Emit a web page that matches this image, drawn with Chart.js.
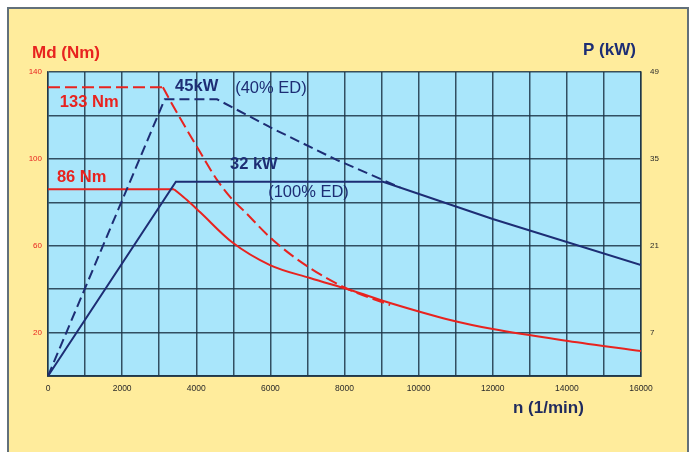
<!DOCTYPE html>
<html>
<head>
<meta charset="utf-8">
<script src="https://cdn.jsdelivr.net/npm/chart.js@4.4.0/dist/chart.umd.min.js"></script>
<style>
html, body { margin: 0; padding: 0; background: #fff; overflow: hidden; }
#cadre { position: absolute; left: 7px; top: 7px; width: 678px; height: 445px; background: #ffec9c; border: 2px solid #62707a; border-bottom: none; }
#graph { position: absolute; left: 0; top: 0; }
</style>
</head>
<body>
<div id="cadre"></div>
<canvas id="graph" width="694" height="452"></canvas>
<script>
// couple 100% ED (trait plein rouge)
const nCouple100 = [0, 3400, 3750, 4100, 4960, 5990, 7070, 8150, 9230, 10850, 12000, 14030, 16000];
const mdCouple100 = [86, 86, 81, 75.5, 61.7, 51.1, 45.1, 39.6, 33.6, 25.8, 21.6, 16.1, 11.5];

// couple 40% ED (pointillés rouges)
const nCouple40 = [0, 3100, 3290, 4180, 4560, 4990, 5260, 6070, 7070, 8150, 9230];
const mdCouple40 = [133, 133, 127, 100.9, 90.3, 81, 76.5, 62.6, 49.7, 39.6, 32.7];

// puissance 100% ED (trait plein bleu)
const nPuiss100 = [0, 3450, 9040, 12000, 16000];
const pPuiss100 = [0, 31.3, 31.3, 25.3, 17.9];

// puissance 40% ED (pointillés bleus)
const nPuiss40 = [0, 3150, 4560, 5990, 7800, 9500];
const pPuiss40 = [0, 44.6, 44.6, 40.1, 34.8, 30.4];

// axes
const nMax = 16000, nPas = 1000;
const mdMax = 140, mdPas = 20;
const pMax = 49, pPas = 7;

const rouge = '#e8231f';
const bleu = '#1d2d74';
const grille = 'rgba(28,52,70,0.85)';

function points(xs, ys) {
    return xs.map((x, i) => ({ x: x, y: ys[i] }));
}

// fond cyan de la zone du graphique
const fondPlugin = {
    id: 'fond',
    beforeDraw(chart) {
        const a = chart.chartArea, ctx = chart.ctx;
        ctx.save();
        ctx.fillStyle = '#a9e6fb';
        ctx.fillRect(a.left, a.top, a.right - a.left, a.bottom - a.top);
        ctx.restore();
    }
};

// textes : titres des axes et étiquettes des courbes
const textesPlugin = {
    id: 'textes',
    afterDatasetsDraw(chart) {
        const ctx = chart.ctx, sx = chart.scales.x, sy = chart.scales.y;
        ctx.save();
        ctx.textBaseline = 'middle';
        ctx.textAlign = 'left';
        function txt(t, x, y, couleur, police) {
            ctx.fillStyle = couleur;
            ctx.font = police;
            ctx.fillText(t, x, y);
        }
        const gras = 'bold 16.5px "Liberation Sans", Arial, sans-serif';
        const normal = '16.5px "Liberation Sans", Arial, sans-serif';
        txt('133 Nm', sx.getPixelForValue(320), sy.getPixelForValue(126.2), rouge, gras);
        txt('86 Nm', sx.getPixelForValue(240), sy.getPixelForValue(91.4), rouge, gras);
        txt('45kW', sx.getPixelForValue(3430), sy.getPixelForValue(133.3), bleu, gras);
        txt('(40% ED)', sx.getPixelForValue(5050), sy.getPixelForValue(132.4), bleu, normal);
        txt('32 kW', sx.getPixelForValue(4910), sy.getPixelForValue(97.2), bleu, gras);
        txt('(100% ED)', sx.getPixelForValue(5940), sy.getPixelForValue(84.5), bleu, normal);

        const titre = 'bold 17px "Liberation Sans", Arial, sans-serif';
        txt('Md (Nm)', 32, 53, rouge, titre);
        txt('P (kW)', 583, 50, bleu, titre);
        txt('n (1/min)', 513, 408, '#1f2a5e', titre);
        ctx.restore();
    }
};

// les parties courbes sont lissées, les paliers restent droits
const courbe = { cubicInterpolationMode: 'monotone' };

const ctx = document.getElementById('graph').getContext('2d');
const monGraph = new Chart(ctx, {
    type: 'line',
    data: {
        datasets: [
            { data: points(nPuiss40, pPuiss40), yAxisID: 'y2', borderColor: bleu, borderWidth: 2, borderDash: [10, 5] },
            { data: points(nPuiss100, pPuiss100), yAxisID: 'y2', borderColor: bleu, borderWidth: 2 },
            { data: points(nCouple40.slice(0, 2), mdCouple40.slice(0, 2)), yAxisID: 'y', borderColor: rouge, borderWidth: 2, borderDash: [12, 5] },
            Object.assign({ data: points(nCouple40.slice(1), mdCouple40.slice(1)), yAxisID: 'y', borderColor: rouge, borderWidth: 2, borderDash: [12, 5] }, courbe),
            { data: points(nCouple100.slice(0, 2), mdCouple100.slice(0, 2)), yAxisID: 'y', borderColor: rouge, borderWidth: 2 },
            Object.assign({ data: points(nCouple100.slice(1), mdCouple100.slice(1)), yAxisID: 'y', borderColor: rouge, borderWidth: 2 }, courbe)
        ]
    },
    options: {
        responsive: false,
        animation: false,
        devicePixelRatio: 1,
        layout: { padding: { top: 72 } },
        elements: { point: { radius: 0 }, line: { tension: 0, fill: false } },
        plugins: { legend: { display: false }, tooltip: { enabled: false } },
        scales: {
            x: {
                type: 'linear',
                min: 0, max: nMax,
                afterFit: s => { s.height = 76; },
                grid: { color: grille, lineWidth: 1.5, drawTicks: false },
                border: { color: grille, width: 2 },
                ticks: {
                    stepSize: nPas, autoSkip: false, maxRotation: 0, padding: 8,
                    color: '#2a2a2a',
                    font: { size: 8.5, family: '"Liberation Sans", Arial, sans-serif' },
                    callback: v => (v % 2000 === 0 ? String(v) : '')
                }
            },
            y: {
                position: 'left',
                min: 0, max: mdMax,
                afterFit: s => { s.width = 48; },
                grid: { color: grille, lineWidth: 1.5, drawTicks: false },
                border: { color: grille, width: 1.5 },
                ticks: {
                    stepSize: mdPas, autoSkip: false, padding: 6,
                    color: rouge,
                    font: { size: 8, family: '"Liberation Sans", Arial, sans-serif' },
                    callback: v => (v % 40 === 20 ? String(v) : '')
                }
            },
            y2: {
                position: 'right',
                min: 0, max: pMax,
                afterFit: s => { s.width = 53; },
                grid: { display: false, drawTicks: false },
                border: { color: grille, width: 1.5 },
                ticks: {
                    stepSize: pPas, autoSkip: false, padding: 9,
                    color: '#2a2a2a',
                    font: { size: 8, family: '"Liberation Sans", Arial, sans-serif' },
                    callback: v => (v % 14 === 7 ? String(v) : '')
                }
            }
        }
    },
    plugins: [fondPlugin, textesPlugin]
});
</script>
</body>
</html>
